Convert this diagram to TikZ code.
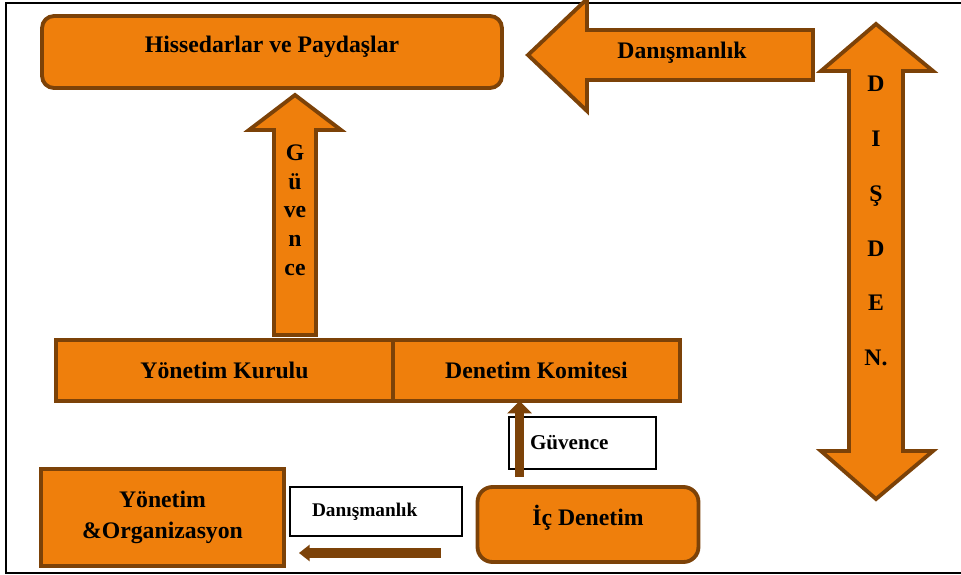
\documentclass[tikz,border=0pt]{standalone}
\usepackage{fontspec}
\setmainfont{Liberation Serif}
\usetikzlibrary{arrows.meta,positioning,calc}
\definecolor{denorange}{RGB}{239,127,12}
\definecolor{denbrown}{RGB}{124,66,8}

\begin{document}
\begin{tikzpicture}[x=0.02cm, y=-0.02cm,
  box/.style={draw=denbrown, fill=denorange, line width=2.2pt, outer sep=0pt, inner sep=0pt,
    font=\fontsize{13.5}{17.6}\selectfont\bfseries, align=center},
  raised/.style={text height=9.5pt, text depth=8.5pt},
  blockarrow/.style={draw=denbrown, fill=denorange, line width=2.2pt, line join=miter},
  lbl/.style={inner sep=0pt, align=center, font=\bfseries},
  note/.style={draw=black, fill=white, line width=0.6pt, inner sep=0pt, align=left, font=\bfseries},
  flow/.style={denbrown, line width=5.4pt, -{Triangle[length=7pt, width=13.6pt]}}]

  \clip (0,0) rectangle (961,575);
  \draw[line width=1.1pt] (961,3) -- (6,3) -- (6,573) -- (961,573);

  % block arrows
  \draw[blockarrow] (528,55) -- (587,-1) -- (587,30) -- (813,30) -- (813,80) -- (587,80) -- (587,111) -- cycle;
  \node[lbl, font=\fontsize{13.5}{16}\selectfont\bfseries] (dant) at (682,53) {Danışmanlık};
  \draw[blockarrow] (295,95) -- (341,130) -- (316,130) -- (316,335) -- (274,335) -- (274,130) -- (249,130) -- cycle;
  \node[lbl, font=\fontsize{13.5}{16.3}\selectfont\bfseries] (guvt) at (295,210) {G\\ü\\ve\\n\\ce};
  \draw[blockarrow] (876,24) -- (933,71) -- (903,71) -- (903,451) -- (933,451) -- (876,499)
    -- (821,451) -- (849,451) -- (849,71) -- (821,71) -- cycle;
  \node[lbl, font=\fontsize{13.5}{31.2}\selectfont\bfseries] (disden) at (876,221) {D\\I\\Ş\\D\\E\\N.};

  % boxes
  \node[box, raised, rounded corners=0.24cm, minimum width=9.2cm, minimum height=1.44cm] (hp) at (272,52) {Hissedarlar ve Paydaşlar};
  \node[box, minimum width=6.74cm, minimum height=1.22cm] (yk) at (224.5,370.5) {Yönetim Kurulu};
  \node[box, minimum width=5.74cm, minimum height=1.22cm, right=0pt of yk] (dk) {Denetim Komitesi};
  \node[box, minimum width=4.86cm, minimum height=1.94cm] (yo) at (162.5,517.5) {Yönetim\\\&Organizasyon};
  \node[box, raised, rounded corners=0.3cm, minimum width=4.42cm, minimum height=1.5cm] (ic) at (588,524.5) {İç Denetim};

  % notes
  \node[note, minimum width=2.94cm, minimum height=1.04cm, text width=2.1cm, inner xsep=0.42cm] (gv) at (582.5,443) {\fontsize{12}{14}\selectfont Güvence};
  \node[note, minimum width=3.44cm, minimum height=0.98cm, text width=2.56cm, inner xsep=0.44cm] (dn) at (376,511.5) {\fontsize{11}{13}\selectfont Danışmanlık};

  % flows
  \coordinate (gvs) at ($(ic.north west)+(42,-10)$);
  \draw[flow] (gvs) -- (gvs |- dk.south);
  \coordinate (dns) at ($(ic.south west)+(-37,-9)$);
  \draw[flow, -{Triangle[length=6pt, width=9pt]}, shorten >=0.3cm] (dns) -- (dns -| yo.east);
\end{tikzpicture}
\end{document}
